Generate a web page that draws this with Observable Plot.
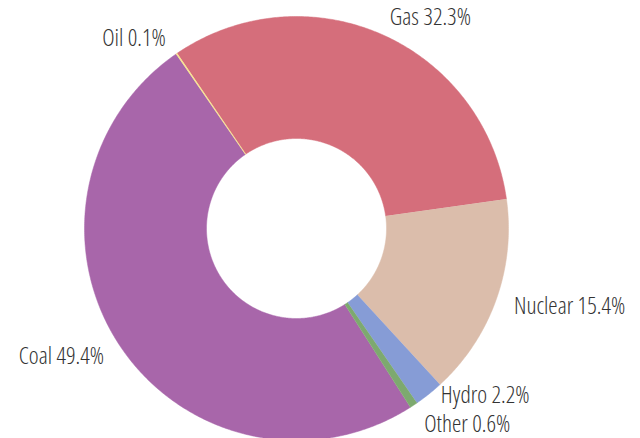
<!DOCTYPE html>
<html><head><meta charset="utf-8">
<script src="https://cdn.jsdelivr.net/npm/d3@7"></script>
<script src="https://cdn.jsdelivr.net/npm/@observablehq/plot@0.6"></script>
<style>
html,body{margin:0;padding:0;background:#fff;}
#chart svg text { font-stretch: 75%; }
</style></head><body><div id="chart"></div>
<script>
// Data
const labels = ["Gas", "Nuclear", "Hydro", "Other", "Coal", "Oil"];
const values = [32.3, 15.4, 2.2, 0.6, 49.4, 0.1];
const colors = ["#d56e7b", "#dbbdab", "#869cd6", "#7da96f", "#a866aa", "#f7e38c"];

// Layout
const W = 640, H = 438;
const cx = 296, cy = 228, R = 212;
const innerRatio = 90 / 212;
const labelRatio = 231 / 212;
const fontSize = 23.5;
const minGap = 29 / R;      // minimum vertical spacing between labels on one side
const startDeg = -34.3;     // clockwise from 12 o'clock

const total = d3.sum(values);
let acc = startDeg;
const slices = labels.map((label, i) => {
  const a0 = acc, a1 = acc + values[i] / total * 360;
  acc = a1;
  return {label, value: values[i], a0, a1, mid: (a0 + a1) / 2};
});

const rad = d => d * Math.PI / 180;
const pts = [];
// draw big slices first, tiny ones last
const drawOrder = slices.slice().sort((a, b) => b.value - a.value);
for (const s of drawOrder) {
  const n = Math.max(2, Math.ceil((s.a1 - s.a0) / 0.5));
  for (let k = 0; k <= n; k++) {
    const t = rad(s.a0 + (s.a1 - s.a0) * k / n);
    pts.push({label: s.label, x: Math.sin(t), y: Math.cos(t)});
  }
  for (let k = n; k >= 0; k--) {
    const t = rad(s.a0 + (s.a1 - s.a0) * k / n);
    pts.push({label: s.label, x: innerRatio * Math.sin(t), y: innerRatio * Math.cos(t)});
  }
}

const lab = slices.map(s => ({
  text: `${s.label} ${s.value.toFixed(1)}%`,
  x: labelRatio * Math.sin(rad(s.mid)),
  y: labelRatio * Math.cos(rad(s.mid)),
  right: Math.sin(rad(s.mid)) >= 0
}));

// simple collision relaxation per side, kept inside the frame
const yMin = -(H - cy - fontSize / 2 - 2) / R;
function relax(arr) {
  arr.sort((a, b) => b.y - a.y);
  for (let iter = 0; iter < 100; iter++) {
    let moved = false;
    for (let i = 0; i < arr.length - 1; i++) {
      const a = arr[i], b = arr[i + 1];
      const gap = a.y - b.y;
      if (gap < minGap - 1e-9) {
        const d = (minGap - gap) / 2;
        a.y += d; b.y -= d; moved = true;
      }
    }
    const last = arr[arr.length - 1];
    if (last && last.y < yMin) { last.y = yMin; moved = true; }
    if (!moved) break;
  }
  return arr;
}
const rightLabels = relax(lab.filter(d => d.right));
const leftLabels = relax(lab.filter(d => !d.right));

const textOpts = {x: "x", y: "y", text: "text", fontSize, fontWeight: 300, fill: "#333", lineAnchor: "middle"};

const chart = Plot.plot({
  width: W, height: H,
  marginTop: 0, marginBottom: 0, marginLeft: 0, marginRight: 0,
  x: {domain: [-cx / R, (W - cx) / R], axis: null},
  y: {domain: [-(H - cy) / R, cy / R], axis: null},
  color: {domain: labels, range: colors},
  style: {fontFamily: "'Open Sans', sans-serif", background: "#fff"},
  marks: [
    Plot.line(pts, {x: "x", y: "y", z: "label", fill: "label", stroke: "label", strokeWidth: 0.5, curve: "linear"}),
    Plot.text(rightLabels, {...textOpts, textAnchor: "start"}),
    Plot.text(leftLabels, {...textOpts, textAnchor: "end"})
  ]
});
document.getElementById("chart").appendChild(chart);
</script></body></html>
